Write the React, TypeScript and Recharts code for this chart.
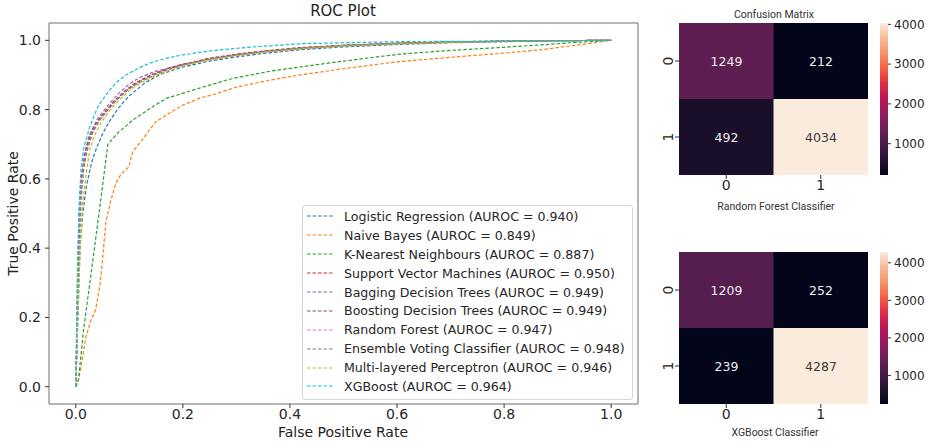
import {
  LineChart,
  Line,
  XAxis,
  YAxis,
  ReferenceArea,
  Legend,
  BarChart,
  Bar,
  Cell,
  LabelList,
} from 'recharts'

// ---- ROC data (fpr, tpr) ----
const rateTicks = [0, 0.2, 0.4, 0.6, 0.8, 1.0]

const modelNames = [
  'Logistic Regression',
  'Naive Bayes',
  'K-Nearest Neighbours',
  'Support Vector Machines',
  'Bagging Decision Trees',
  'Boosting Decision Trees',
  'Random Forest',
  'Ensemble Voting Classifier',
  'Multi-layered Perceptron',
  'XGBoost',
]

const aurocValues = [0.94, 0.849, 0.887, 0.95, 0.949, 0.949, 0.947, 0.948, 0.946, 0.964]

const logisticRoc = [
  [0, 0], [0.004, 0.2], [0.008, 0.4], [0.013, 0.5], [0.02, 0.58], [0.03, 0.65], [0.039, 0.69],
  [0.05, 0.73], [0.062, 0.764], [0.08, 0.805], [0.1, 0.84], [0.13, 0.878], [0.16, 0.903],
  [0.2, 0.923], [0.25, 0.94], [0.3, 0.952], [0.35, 0.962], [0.42, 0.973], [0.5, 0.981],
  [0.6, 0.988], [0.7, 0.993], [0.8, 0.996], [0.9, 0.999], [1, 1],
]
const naiveBayesRoc = [
  [0, 0], [0.004, 0.012], [0.01, 0.06], [0.019, 0.144], [0.028, 0.19], [0.037, 0.222],
  [0.045, 0.29], [0.05, 0.366], [0.053, 0.42], [0.056, 0.473], [0.065, 0.535], [0.075, 0.588],
  [0.085, 0.615], [0.099, 0.634], [0.106, 0.677], [0.125, 0.715], [0.149, 0.764], [0.175, 0.79],
  [0.2, 0.813], [0.231, 0.833], [0.261, 0.845], [0.3, 0.865], [0.36, 0.884], [0.418, 0.9],
  [0.5, 0.918], [0.6, 0.938], [0.7, 0.951], [0.79, 0.962], [0.87, 0.973], [0.935, 0.986], [1, 1],
]
const knnRoc = [
  [0, 0], [0.005, 0.02], [0.015, 0.17], [0.032, 0.366], [0.045, 0.52], [0.06, 0.7], [0.08, 0.735],
  [0.106, 0.769], [0.14, 0.805], [0.17, 0.833], [0.231, 0.862], [0.293, 0.89], [0.36, 0.91],
  [0.418, 0.923], [0.5, 0.94], [0.604, 0.96], [0.7, 0.971], [0.79, 0.979], [0.87, 0.987],
  [0.935, 0.994], [1, 1],
]
const svmRoc = [
  [0, 0], [0.002, 0.1], [0.004, 0.3], [0.007, 0.5], [0.011, 0.6], [0.017, 0.67], [0.025, 0.72],
  [0.035, 0.755], [0.05, 0.785], [0.07, 0.822], [0.09, 0.852], [0.11, 0.876], [0.14, 0.9],
  [0.17, 0.918], [0.2, 0.931], [0.25, 0.948], [0.3, 0.96], [0.35, 0.969], [0.42, 0.979],
  [0.5, 0.986], [0.6, 0.992], [0.7, 0.995], [0.8, 0.998], [0.9, 0.999], [1, 1],
]
const baggingRoc = [
  [0, 0], [0.003, 0.3], [0.006, 0.5], [0.01, 0.6], [0.016, 0.67], [0.025, 0.725], [0.04, 0.772],
  [0.06, 0.812], [0.08, 0.847], [0.1, 0.874], [0.12, 0.893], [0.15, 0.911], [0.2, 0.93],
  [0.25, 0.945], [0.3, 0.957], [0.35, 0.967], [0.42, 0.977], [0.5, 0.985], [0.6, 0.991],
  [0.7, 0.995], [0.8, 0.997], [0.9, 0.999], [1, 1],
]
const boostingRoc = [
  [0, 0], [0.002, 0.15], [0.005, 0.35], [0.008, 0.52], [0.012, 0.61], [0.018, 0.675],
  [0.027, 0.725], [0.038, 0.76], [0.052, 0.788], [0.07, 0.82], [0.09, 0.85], [0.11, 0.874],
  [0.14, 0.898], [0.17, 0.917], [0.2, 0.93], [0.25, 0.947], [0.3, 0.959], [0.35, 0.968],
  [0.42, 0.978], [0.5, 0.985], [0.6, 0.991], [0.7, 0.995], [0.8, 0.998], [0.9, 0.999], [1, 1],
]
const randomForestRoc = [
  [0, 0], [0.003, 0.2], [0.005, 0.4], [0.009, 0.55], [0.014, 0.63], [0.02, 0.68], [0.03, 0.73],
  [0.042, 0.765], [0.058, 0.795], [0.075, 0.826], [0.095, 0.855], [0.115, 0.876], [0.145, 0.9],
  [0.175, 0.917], [0.2, 0.928], [0.25, 0.945], [0.3, 0.957], [0.35, 0.966], [0.42, 0.976],
  [0.5, 0.984], [0.6, 0.99], [0.7, 0.994], [0.8, 0.997], [0.9, 0.999], [1, 1],
]
const ensembleRoc = [
  [0, 0], [0.003, 0.18], [0.006, 0.4], [0.01, 0.54], [0.015, 0.63], [0.022, 0.685],
  [0.032, 0.735], [0.045, 0.77], [0.06, 0.8], [0.078, 0.83], [0.098, 0.858], [0.12, 0.88],
  [0.15, 0.902], [0.18, 0.92], [0.2, 0.929], [0.25, 0.946], [0.3, 0.958], [0.35, 0.967],
  [0.42, 0.977], [0.5, 0.985], [0.6, 0.991], [0.7, 0.995], [0.8, 0.997], [0.9, 0.999], [1, 1],
]
const mlpRoc = [
  [0, 0], [0.004, 0.2], [0.008, 0.4], [0.013, 0.53], [0.019, 0.61], [0.026, 0.683],
  [0.035, 0.725], [0.047, 0.762], [0.062, 0.795], [0.08, 0.826], [0.1, 0.855], [0.12, 0.876],
  [0.15, 0.899], [0.18, 0.916], [0.2, 0.927], [0.25, 0.944], [0.3, 0.956], [0.35, 0.966],
  [0.42, 0.976], [0.5, 0.984], [0.6, 0.99], [0.7, 0.994], [0.8, 0.997], [0.9, 0.999], [1, 1],
]
const xgboostRoc = [
  [0, 0], [0.002, 0.2], [0.004, 0.4], [0.007, 0.55], [0.01, 0.63], [0.015, 0.69], [0.025, 0.745],
  [0.035, 0.785], [0.043, 0.813], [0.06, 0.85], [0.075, 0.878], [0.093, 0.899], [0.12, 0.922],
  [0.14, 0.935], [0.168, 0.948], [0.2, 0.958], [0.231, 0.965], [0.261, 0.971], [0.3, 0.977],
  [0.35, 0.983], [0.418, 0.99], [0.5, 0.993], [0.6, 0.996], [0.7, 0.997], [0.8, 0.998],
  [0.9, 0.999], [1, 1],
]

const rocCurves = [
  logisticRoc, naiveBayesRoc, knnRoc, svmRoc, baggingRoc,
  boostingRoc, randomForestRoc, ensembleRoc, mlpRoc, xgboostRoc,
]

// ---- confusion matrices (rows = actual, cols = predicted) ----
const cmLabels = ['0', '1']
const randomForestMatrix = [
  [1249, 212],
  [492, 4034],
]
const xgboostMatrix = [
  [1209, 252],
  [239, 4287],
]
const colorbarTicks = [1000, 2000, 3000, 4000]

// matplotlib tab10
const tab10 = [
  '#1f77b4', '#ff7f0e', '#2ca02c', '#d62728', '#9467bd',
  '#8c564b', '#e377c2', '#7f7f7f', '#bcbd22', '#17becf',
]

// seaborn "rocket", sampled every 0.1
const rocketStops = [
  '#03051a', '#221331', '#451c47', '#6a1f56', '#921c5b', '#b91657',
  '#dd2c45', '#f06043', '#f5936a', '#f6bb97', '#faebdd',
]

const FONT = "'DejaVu Sans', 'Liberation Sans', sans-serif"
const NARROW = "'Liberation Sans Narrow', 'Roboto', 'Open Sans', sans-serif"

const legendName = (i: number) => `${modelNames[i]} (AUROC = ${aurocValues[i].toFixed(3)})`

function hexToRgb(h: string) {
  return [1, 3, 5].map((i) => parseInt(h.slice(i, i + 2), 16))
}

function rocket(t: number) {
  const p = Math.max(0, Math.min(1, t)) * (rocketStops.length - 1)
  const i = Math.min(Math.floor(p), rocketStops.length - 2)
  const f = p - i
  const a = hexToRgb(rocketStops[i])
  const b = hexToRgb(rocketStops[i + 1])
  const c = a.map((v, k) => Math.round(v + (b[k] - v) * f))
  return `rgb(${c[0]}, ${c[1]}, ${c[2]})`
}

const renderRocLegend = ({ payload }: any) => {
  // keep the plotting order, not alphabetical
  const order = modelNames.map((_, i) => legendName(i))
  const items = [...(payload || [])].sort((a: any, b: any) => order.indexOf(a.value) - order.indexOf(b.value))
  return (
    <div
      style={{
        width: 331,
        height: 195,
        boxSizing: 'border-box',
        border: '1px solid #d6d6d6',
        borderRadius: 3,
        background: 'rgba(255,255,255,0.85)',
        paddingTop: 1,
        paddingLeft: 4,
      }}
    >
      {items.map((entry: any) => (
        <div key={entry.value} style={{ display: 'flex', alignItems: 'center', height: 18.9 }}>
          <svg width={26} height={6}>
            <line x1={0} y1={3} x2={26} y2={3} stroke={entry.color} strokeWidth={1.2} strokeDasharray="3.5 2" />
          </svg>
          <span style={{ marginLeft: 11, fontSize: 12.6, color: '#262626', whiteSpace: 'nowrap', fontFamily: FONT }}>
            {entry.value}
          </span>
        </div>
      ))}
    </div>
  )
}

function RocPlot() {
  const tickStyle = { fontSize: 14, fill: '#262626', fontFamily: FONT }
  return (
    <LineChart width={645} height={443} margin={{ top: 23, right: 7, bottom: 0, left: 0 }}>
      <XAxis
        type="number"
        dataKey="fpr"
        domain={[-0.05, 1.05]}
        ticks={rateTicks}
        tickFormatter={(v: number) => v.toFixed(1)}
        height={39}
        axisLine={false}
        tickSize={4}
        tickMargin={1}
        tickLine={{ stroke: '#333' }}
        tick={tickStyle}
        allowDataOverflow
      />
      <YAxis
        type="number"
        dataKey="tpr"
        domain={[-0.05, 1.05]}
        ticks={rateTicks}
        tickFormatter={(v: number) => v.toFixed(1)}
        width={49}
        axisLine={false}
        tickSize={4}
        tickMargin={4}
        tickLine={{ stroke: '#333' }}
        tick={tickStyle}
        allowDataOverflow
      />
      <ReferenceArea
        x1={-0.05}
        x2={1.05}
        y1={-0.05}
        y2={1.05}
        fill="none"
        stroke="#6e6e6e"
        strokeWidth={1}
        ifOverflow="visible"
      />
      {rocCurves.map((curve, i) => (
        <Line
          key={modelNames[i]}
          data={curve.map(([fpr, tpr]) => ({ fpr, tpr }))}
          dataKey="tpr"
          name={legendName(i)}
          type="linear"
          stroke={tab10[i]}
          strokeWidth={1.2}
          strokeDasharray="3.5 2"
          dot={false}
          activeDot={false}
          isAnimationActive={false}
        />
      ))}
      <Legend
        layout="vertical"
        align="center"
        verticalAlign="middle"
        content={renderRocLegend}
        wrapperStyle={{ left: 302, top: 205, width: 331 }}
      />
    </LineChart>
  )
}

function RowTick({ x, y, payload }: any) {
  const label = payload.value > 1 ? cmLabels[0] : cmLabels[1]
  return (
    <text
      x={x}
      y={y}
      transform={`rotate(-90, ${x}, ${y})`}
      textAnchor="middle"
      fontSize={14}
      fill="#262626"
      fontFamily={FONT}
    >
      {label}
    </text>
  )
}

function Heatmap({ matrix }: { matrix: number[][] }) {
  const flat = matrix.flat()
  const lo = Math.min(...flat)
  const hi = Math.max(...flat)
  const data = cmLabels.map((lab, j) => ({
    pred: lab,
    row1: 1,
    row0: 1,
    n1: matrix[1][j],
    n0: matrix[0][j],
  }))
  const norm = (v: number) => (v - lo) / (hi - lo)
  const cellLabel = (props: any) => {
    const { x, y, width, height, value } = props
    return (
      <text
        x={x + width / 2}
        y={y + height / 2}
        textAnchor="middle"
        dominantBaseline="central"
        fontSize={12.5}
        fontFamily={FONT}
        fill={norm(value) > 0.6 ? '#3a3a3a' : '#ececec'}
      >
        {value}
      </text>
    )
  }
  return (
    <BarChart
      width={223}
      height={205}
      data={data}
      margin={{ top: 23, right: 0, bottom: 0, left: 0 }}
      barCategoryGap={0}
      barGap={0}
    >
      <XAxis
        dataKey="pred"
        height={30}
        axisLine={false}
        tickSize={4}
        tickMargin={1}
        tickLine={{ stroke: '#333' }}
        tick={{ fontSize: 14, fill: '#262626', fontFamily: FONT }}
      />
      <YAxis
        type="number"
        domain={[0, 2]}
        ticks={[0.5, 1.5]}
        width={34}
        axisLine={false}
        tickSize={4}
        tickMargin={2}
        tickLine={{ stroke: '#333' }}
        tick={<RowTick />}
      />
      <Bar dataKey="row1" stackId="cm" isAnimationActive={false}>
        {data.map((d) => (
          <Cell key={d.pred} fill={rocket(norm(d.n1))} />
        ))}
        <LabelList dataKey="n1" content={cellLabel} />
      </Bar>
      <Bar dataKey="row0" stackId="cm" isAnimationActive={false}>
        {data.map((d) => (
          <Cell key={d.pred} fill={rocket(norm(d.n0))} />
        ))}
        <LabelList dataKey="n0" content={cellLabel} />
      </Bar>
    </BarChart>
  )
}

function ColorBar({ matrix, id }: { matrix: number[][]; id: string }) {
  const flat = matrix.flat()
  const lo = Math.min(...flat)
  const hi = Math.max(...flat)
  const data = [{ name: 'scale', span: [lo, hi] }]
  return (
    <BarChart
      width={58}
      height={205}
      data={data}
      margin={{ top: 23, right: 0, bottom: 30, left: 5 }}
      barCategoryGap={0}
    >
      <defs>
        <linearGradient id={id} x1="0" y1="1" x2="0" y2="0">
          {rocketStops.map((c, i) => (
            <stop key={c} offset={i / (rocketStops.length - 1)} stopColor={c} />
          ))}
        </linearGradient>
      </defs>
      <XAxis dataKey="name" hide />
      <YAxis
        orientation="right"
        type="number"
        domain={[lo, hi]}
        ticks={colorbarTicks}
        width={45}
        axisLine={false}
        tickSize={3}
        tickMargin={3}
        tickLine={{ stroke: '#333' }}
        tick={{ fontSize: 12, fill: '#262626', fontFamily: FONT, textAnchor: 'start' }}
        allowDataOverflow
      />
      <Bar dataKey="span" fill={`url(#${id})`} isAnimationActive={false} />
    </BarChart>
  )
}

const abs = (left: number, top: number, extra: any = {}) => ({
  position: 'absolute' as const,
  left,
  top,
  ...extra,
})

const smallTitle = { width: 200, textAlign: 'center', fontSize: 10.5, lineHeight: '12px', fontFamily: NARROW, color: '#333' }

export default function App() {
  return (
    <div
      style={{
        position: 'absolute',
        left: 0,
        top: 0,
        width: 933,
        height: 443,
        background: '#fff',
        overflow: 'hidden',
        fontFamily: FONT,
      }}
    >
      <div style={abs(0, 0)}>
        <RocPlot />
      </div>
      <div style={abs(243, 3, { width: 200, textAlign: 'center', fontSize: 15, lineHeight: '17px', color: '#222' })}>
        ROC Plot
      </div>
      <div style={abs(243, 425, { width: 200, textAlign: 'center', fontSize: 14, lineHeight: '14px', color: '#222' })}>
        False Positive Rate
      </div>
      <div
        style={abs(-87, 206, {
          width: 200,
          textAlign: 'center',
          fontSize: 14,
          lineHeight: '15px',
          color: '#222',
          transform: 'rotate(-90deg)',
        })}
      >
        True Positive Rate
      </div>

      <div style={abs(645, 0)}>
        <Heatmap matrix={randomForestMatrix} />
      </div>
      <div style={abs(875, 0)}>
        <ColorBar matrix={randomForestMatrix} id="rocketRf" />
      </div>
      <div style={abs(674, 9, smallTitle)}>Confusion Matrix</div>
      <div style={abs(676, 201, smallTitle)}>Random Forest Classifier</div>

      <div style={abs(645, 229)}>
        <Heatmap matrix={xgboostMatrix} />
      </div>
      <div style={abs(875, 229)}>
        <ColorBar matrix={xgboostMatrix} id="rocketXgb" />
      </div>
      <div style={abs(675, 427, smallTitle)}>XGBoost Classifier</div>
    </div>
  )
}
